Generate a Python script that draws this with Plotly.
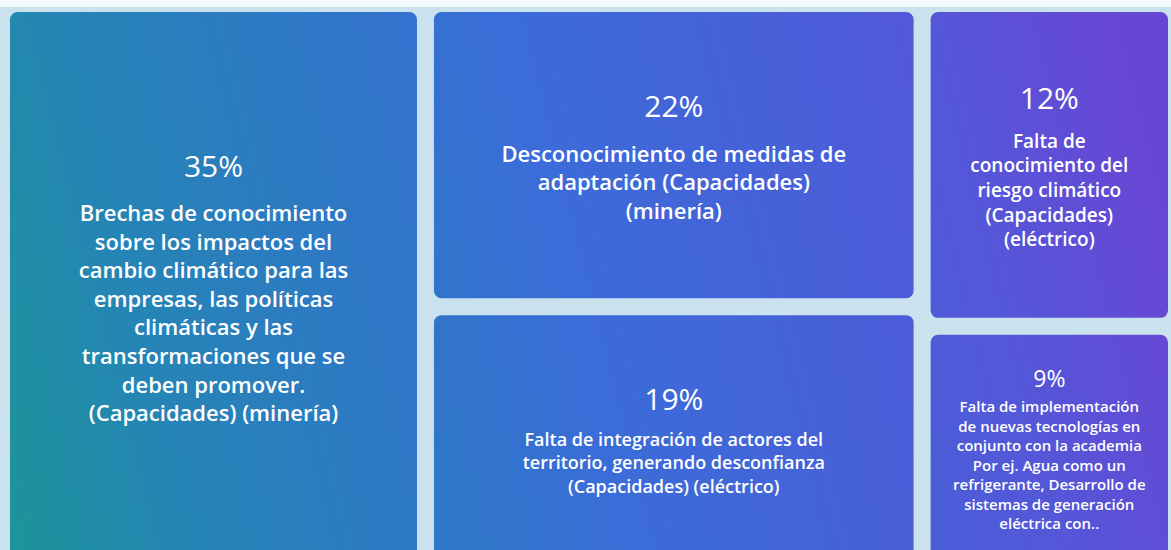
import base64
import plotly.graph_objects as go

# ---- data -------------------------------------------------------------
percents = ["35%", "22%", "19%", "12%", "9%"]
values = [35, 22, 19, 12, 9]
labels = [
    "Brechas de conocimiento<br>sobre los impactos del<br>cambio climático para las<br>empresas, las políticas<br>climáticas y las<br>transformaciones que se<br>deben promover.<br>(Capacidades) (minería)",
    "Desconocimiento de medidas de<br>adaptación (Capacidades)<br>(minería)",
    "Falta de integración de actores del<br>territorio, generando desconfianza<br>(Capacidades) (eléctrico)",
    "Falta de<br>conocimiento del<br>riesgo climático<br>(Capacidades)<br>(eléctrico)",
    "Falta de implementación<br>de nuevas tecnologías en<br>conjunto con la academia<br>Por ej. Agua como un<br>refrigerante, Desarrollo de<br>sistemas de generación<br>eléctrica con..",
]
ids = ["a", "b", "c", "d", "e"]

# ---- styling ----------------------------------------------------------
desc_sizes = [22, 22, 18, 19, 15]
pct_sizes = [30, 30, 30, 30, 23]
sup_levels = [2, 2, 2, 2, 1]
GAP = "#c9e2ee"


def make_text(p, l, ps, lev):
    inner = f"<span style='font-size:{ps}px;font-weight:400'>{p}</span>"
    return "<sup>" * lev + inner + "</sup>" * lev + "<br>" + l


texts = [make_text(p, l, ps, lev) for p, l, ps, lev in zip(percents, labels, pct_sizes, sup_levels)]

svg = """<svg xmlns="http://www.w3.org/2000/svg" width="1171" height="550">
<defs><linearGradient id="g" gradientUnits="userSpaceOnUse" x1="0" y1="550" x2="1171" y2="250">
<stop offset="0" stop-color="#1c9597"/>
<stop offset="0.15" stop-color="#2585b5"/>
<stop offset="0.40" stop-color="#3174ca"/>
<stop offset="0.50" stop-color="#3a6dd8"/>
<stop offset="0.75" stop-color="#4a5ed8"/>
<stop offset="0.86" stop-color="#5556d8"/>
<stop offset="1" stop-color="#6846d4"/>
</linearGradient></defs>
<rect width="1171" height="550" fill="url(#g)"/></svg>"""
src = "data:image/svg+xml;base64," + base64.b64encode(svg.encode()).decode()

fig = go.Figure(
    go.Treemap(
        ids=ids,
        labels=percents,
        parents=[""] * len(ids),
        values=values,
        text=texts,
        textinfo="text",
        textposition="middle center",
        textfont=dict(family="Open Sans", color="white", size=desc_sizes, weight=600),
        marker=dict(
            colors=["rgba(0,0,0,0)"] * len(ids),
            line=dict(width=14, color=GAP),
            cornerradius=14.5,
            pad=dict(t=0, l=0, r=0, b=0),
        ),
        tiling=dict(packing="squarify", pad=3),
        pathbar=dict(visible=False),
        sort=True,
        hoverinfo="skip",
    )
)

W, H, T = 1175, 567, 5
fig.update_layout(
    width=W,
    height=H,
    margin=dict(l=3, r=0, t=T, b=0),
    paper_bgcolor=GAP,
    images=[
        dict(
            source=src,
            xref="paper", yref="paper",
            x=0, y=1, sizex=1, sizey=1,
            xanchor="left", yanchor="top",
            sizing="stretch",
            layer="below",
        )
    ],
    shapes=[
        dict(
            type="rect", xref="paper", yref="paper",
            x0=-0.01, x1=1.01,
            y0=1 - 2 / (H - T), y1=1 + T / (H - T),
            fillcolor="#f3f9fc", line_width=0, layer="above",
        )
    ],
)

fig.write_html(
    "out.html",
    config={"displayModeBar": False},
    post_script=(
        "document.body.style.margin='0';"
        "document.body.style.overflow='hidden';"
        "document.documentElement.style.overflow='hidden';"
    ),
)
